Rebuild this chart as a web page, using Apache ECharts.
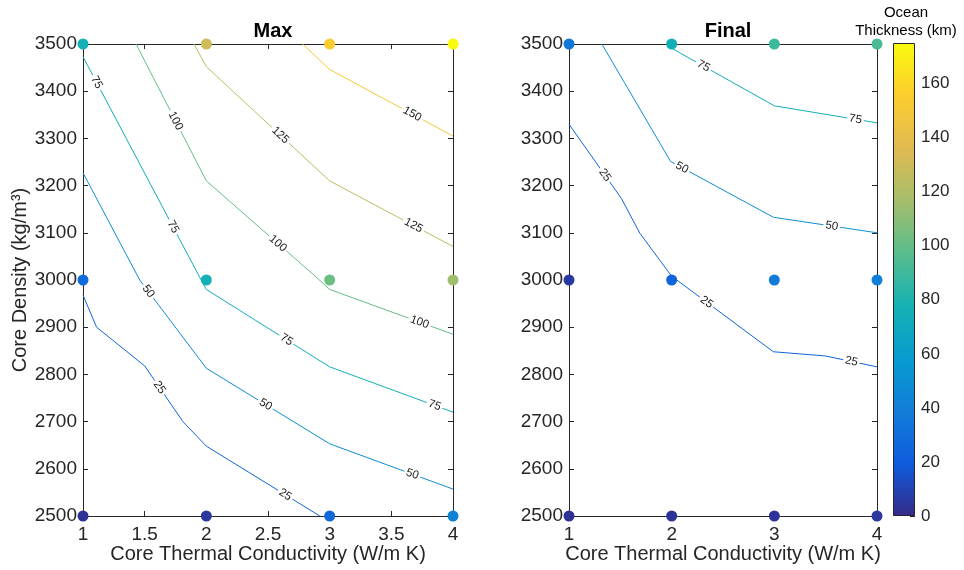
<!DOCTYPE html>
<html><head><meta charset="utf-8">
<script src="https://cdn.jsdelivr.net/npm/echarts@6/dist/echarts.min.js"></script>
<style>html,body{margin:0;padding:0;background:#fff}#c{width:964px;height:570px}</style>
</head><body><div id="c"></div>
<script>
// ---------- data ----------
const conductivity = [1, 2, 3, 4];            // W/m K
const densities = [2500, 3000, 3500];         // kg/m^3
// ocean thickness (km), rows follow densities, columns follow conductivity
const maxThickness = [
  [3, 5, 27, 41],
  [28, 77, 102, 115],
  [77, 130, 155, 175]
];
const finalThickness = [
  [3, 4, 4, 5],
  [6, 24, 38, 41],
  [35, 76, 89, 93]
];
const colorMin = 0, colorMax = 175;

// contour lines [conductivity, density]
const maxContour25 = [[1, 2968], [1.11, 2900], [1.5, 2818], [1.81, 2700], [2.0, 2648], [2.92, 2500]];
const maxContour50 = [[1, 3227], [1.46, 3000], [2.0, 2813], [3.0, 2653], [4.0, 2557]];
const maxContour75 = [[1, 3473], [1.95, 3004], [2.0, 2980], [3.0, 2816], [4.0, 2720]];
const maxContour100 = [[1.43, 3500], [2.0, 3210], [2.87, 3011], [3.0, 2980], [4.0, 2885]];
const maxContour125 = [[1.9, 3500], [2.0, 3452], [3.0, 3210], [4.0, 3071]];
const maxContour150 = [[2.78, 3500], [3.0, 3446], [4.0, 3305]];
const finalContour25 = [[1, 3330], [1.51, 3173], [1.69, 3099], [2.0, 3008], [2.99, 2848], [3.5, 2839], [4, 2816]];
const finalContour50 = [[1.32, 3500], [1.99, 3251], [2.99, 3133], [4, 3100]];
const finalContour75 = [[2, 3491], [3, 3369], [4, 3333]];

// where the inline contour labels sit (conductivity value along each line)
const maxLabelAt = {25: [1.62, 2.64], 50: [1.53, 2.48, 3.67], 75: [1.11, 1.73, 2.65, 3.85], 100: [1.75, 2.58, 3.73], 125: [2.6, 3.68], 150: [3.67]};
const finalLabelAt = {25: [1.35, 2.34, 3.75], 50: [2.1, 3.56], 75: [2.31, 3.79]};

// ---------- styling ----------
const FONT = '"Liberation Sans", Arial, Helvetica, sans-serif';
const AX = '#262626';
const parula = ['#352a87', '#0f5cdd', '#127dd8', '#079ccf', '#15b1b4', '#59bd8c', '#a5be6b', '#e1ba52', '#fccd2e', '#f9fb0e'];

function hex2rgb(h) { return [1, 3, 5].map(i => parseInt(h.substr(i, 2), 16)); }
function parulaColor(v) {
  let t = (v - colorMin) / (colorMax - colorMin);
  t = Math.max(0, Math.min(1, t)) * (parula.length - 1);
  const i = Math.min(Math.floor(t), parula.length - 2), f = t - i;
  const a = hex2rgb(parula[i]), b = hex2rgb(parula[i + 1]);
  return 'rgb(' + a.map((c, k) => Math.round(c + f * (b[k] - c))).join(',') + ')';
}

const maxLines = {25: maxContour25, 50: maxContour50, 75: maxContour75, 100: maxContour100, 125: maxContour125, 150: maxContour150};
const finalLines = {25: finalContour25, 50: finalContour50, 75: finalContour75};

function labelData(lines, labels) {
  const out = [];
  for (const lvl in labels) {
    const pts = lines[lvl];
    for (const x of labels[lvl]) {
      for (let i = 0; i < pts.length - 1; i++) {
        const a = pts[i], b = pts[i + 1];
        if (x >= Math.min(a[0], b[0]) && x <= Math.max(a[0], b[0]) && a[0] !== b[0]) {
          const t = (x - a[0]) / (b[0] - a[0]);
          out.push([x, a[1] + t * (b[1] - a[1]), a[0], a[1], b[0], b[1], +lvl]);
          break;
        }
      }
    }
  }
  return out;
}
function renderLabel(params, api) {
  const p = api.coord([api.value(0), api.value(1)]);
  const a = api.coord([api.value(2), api.value(3)]);
  const b = api.coord([api.value(4), api.value(5)]);
  let ang = Math.atan2(b[1] - a[1], b[0] - a[0]);
  if (ang > Math.PI / 2) ang -= Math.PI;
  if (ang < -Math.PI / 2) ang += Math.PI;
  return {
    type: 'text', x: p[0], y: p[1], rotation: -ang,
    style: {text: String(api.value(6)), fontSize: 11.5, fontFamily: FONT, fill: '#1a1a1a',
      align: 'center', verticalAlign: 'middle', backgroundColor: '#fff', padding: [0, 2]}
  };
}
function scatterData(vals) {
  const out = [];
  densities.forEach((d, i) => conductivity.forEach((k, j) => out.push([k, d, vals[i][j]])));
  return out;
}

const plain = v => String(v);
function axisBase(extra) {
  return Object.assign({
    axisLine: {show: true, onZero: false, lineStyle: {color: AX, width: 1}},
    axisTick: {show: true, inside: true, length: 5, lineStyle: {color: AX}},
    splitLine: {show: false},
    axisLabel: {color: AX, fontSize: 19, fontFamily: FONT, margin: 9, formatter: plain}
  }, extra);
}
const xName = 'Core Thermal Conductivity (W/m K)';
const xAxes = [
  axisBase({type: 'value', gridIndex: 0, position: 'bottom', min: 1, max: 4, interval: 0.5,
    name: xName, nameLocation: 'middle', nameGap: 28, nameMoveOverlap: false, nameTextStyle: {color: AX, fontSize: 20, fontFamily: FONT}}),
  axisBase({type: 'value', gridIndex: 0, position: 'top', min: 1, max: 4, interval: 0.5, axisLabel: {show: false}}),
  axisBase({type: 'value', gridIndex: 1, position: 'bottom', min: 1, max: 4, interval: 1,
    name: xName, nameLocation: 'middle', nameGap: 28, nameMoveOverlap: false, nameTextStyle: {color: AX, fontSize: 20, fontFamily: FONT}}),
  axisBase({type: 'value', gridIndex: 1, position: 'top', min: 1, max: 4, interval: 1, axisLabel: {show: false}}),
  {type: 'category', gridIndex: 2, data: ['cb'], show: false}
];
const yAxes = [
  axisBase({type: 'value', gridIndex: 0, position: 'left', min: 2500, max: 3500, interval: 100,
    axisLabel: {color: AX, fontSize: 19, fontFamily: FONT, margin: 6, formatter: plain},
    name: 'Core Density (kg/m³)', nameLocation: 'middle', nameGap: 44, nameTextStyle: {color: AX, fontSize: 20, fontFamily: FONT}}),
  axisBase({type: 'value', gridIndex: 0, position: 'right', min: 2500, max: 3500, interval: 100, axisLabel: {show: false}}),
  axisBase({type: 'value', gridIndex: 1, position: 'left', min: 2500, max: 3500, interval: 100,
    axisLabel: {color: AX, fontSize: 19, fontFamily: FONT, margin: 6, formatter: plain}}),
  axisBase({type: 'value', gridIndex: 1, position: 'right', min: 2500, max: 3500, interval: 100, axisLabel: {show: false}}),
  axisBase({type: 'value', gridIndex: 2, position: 'right', min: colorMin, max: colorMax, interval: 20,
    axisLine: {show: false},
    axisLabel: {color: AX, fontSize: 17, fontFamily: FONT, margin: 6, showMaxLabel: false, formatter: plain}})
];

const series = [];
function addPanel(lines, labels, vals, g) {
  for (const lvl in lines) {
    series.push({type: 'line', xAxisIndex: 2 * g, yAxisIndex: 2 * g, data: lines[lvl], showSymbol: false,
      silent: true, z: 2, lineStyle: {color: parulaColor(+lvl), width: 1}});
  }
  series.push({type: 'custom', xAxisIndex: 2 * g, yAxisIndex: 2 * g, data: labelData(lines, labels),
    encode: {x: 0, y: 1}, renderItem: renderLabel, silent: true, z: 3, clip: false});
  series.push({type: 'scatter', xAxisIndex: 2 * g, yAxisIndex: 2 * g, data: scatterData(vals),
    symbolSize: 11, z: 4, clip: false, silent: true, itemStyle: {opacity: 1}});
  return series.length - 1;
}
const s0 = addPanel(maxLines, maxLabelAt, maxThickness, 0);
const s1 = addPanel(finalLines, finalLabelAt, finalThickness, 1);
series.push({type: 'bar', xAxisIndex: 4, yAxisIndex: 4, data: [colorMax], barWidth: '100%', silent: true,
  itemStyle: {borderColor: AX, borderWidth: 1,
    color: new echarts.graphic.LinearGradient(0, 1, 0, 0, parula.map((c, i) => ({offset: i / (parula.length - 1), color: c})))}});

const option = {
  animation: false,
  backgroundColor: '#fff',
  textStyle: {fontFamily: FONT},
  title: [
    {text: 'Max', left: 268, top: 16, textAlign: 'center', textStyle: {fontSize: 20, fontWeight: 'bold', color: '#000', fontFamily: FONT}},
    {text: 'Final', left: 723, top: 16, textAlign: 'center', textStyle: {fontSize: 20, fontWeight: 'bold', color: '#000', fontFamily: FONT}},
    {text: 'Ocean\nThickness (km)', left: 906, top: 4, padding: 0, textAlign: 'center', textStyle: {fontSize: 15, fontWeight: 'normal', color: '#000', lineHeight: 18, fontFamily: FONT}}
  ],
  grid: [
    {left: 83, top: 44, width: 370, height: 472, outerBoundsMode: 'none', containLabel: false},
    {left: 569, top: 44, width: 308, height: 472, outerBoundsMode: 'none', containLabel: false},
    {left: 893, top: 43, width: 22, height: 473, outerBoundsMode: 'none', containLabel: false}
  ],
  visualMap: {show: false, type: 'continuous', min: colorMin, max: colorMax, dimension: 2,
    seriesIndex: [s0, s1], inRange: {color: parula, opacity: 1}},
  xAxis: xAxes,
  yAxis: yAxes,
  series: series
};
const chart = echarts.init(document.getElementById('c'), null, {renderer: 'canvas'});
chart.setOption(option);
</script></body></html>
